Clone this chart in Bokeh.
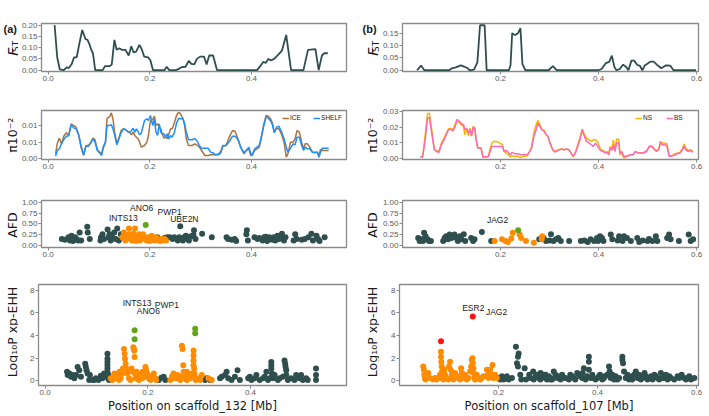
import math
from bokeh.plotting import figure
from bokeh.layouts import column, row
from bokeh.models import Label, Range1d, FixedTicker, PrintfTickFormatter
from bokeh.embed import file_html
from bokeh.resources import INLINE

# ---------------- data ----------------
# F_ST, scaffold_132 (a) : (position Mb, Fst)
fst_a = [(0.0128,0.200),(0.0179,0.057),(0.0230,0.003),(0.0307,0.0),(0.0371,0.013),(0.0409,0.009),
         (0.0466,0.028),(0.0511,0.057),(0.0562,0.057),(0.0613,0.116),(0.0671,0.178),(0.0735,0.138),
         (0.0773,0.135),(0.0812,0.116),(0.0850,0.090),(0.0882,0.075),(0.0927,0.0),(0.1074,0.0),
         (0.1118,0.018),(0.1214,0.018),(0.1252,0.025),(0.1304,0.134),(0.1348,0.090),(0.1393,0.097),
         (0.1457,0.090),(0.1521,0.090),(0.1585,0.065),(0.1636,0.106),(0.1681,0.079),(0.1732,0.082),
         (0.1796,0.112),(0.1840,0.094),(0.1891,0.060),(0.1968,0.057),(0.2013,0.043),(0.2064,0.0),
         (0.2288,0.0),(0.2332,0.015),(0.2383,0.0),(0.2511,0.0),(0.2575,0.006),(0.2626,0.013),
         (0.2703,0.015),(0.2767,0.041),(0.2818,0.028),(0.2876,0.026),(0.2927,0.050),(0.2991,0.060),
         (0.3067,0.060),(0.3118,0.025),(0.3169,0.065),(0.3246,0.065),(0.3323,0.0),(0.4109,0.0),
         (0.4173,0.018),(0.4237,0.037),(0.4281,0.032),(0.4332,0.050),(0.4384,0.043),(0.4447,0.050),
         (0.4524,0.068),(0.4601,0.087),(0.4684,0.156),(0.4780,0.0),(0.5023,0.0),(0.5112,0.090),
         (0.5259,0.093),(0.5323,0.0),(0.5387,0.065),(0.5432,0.075),(0.5502,0.075)]
# F_ST, scaffold_107 (b)
fst_b = [(0.0297,0.0),(0.0379,0.019),(0.0446,0.0),(0.0953,0.0),(0.1007,0.008),(0.1088,0.012),
         (0.1190,0.020),(0.1244,0.016),(0.1325,0.009),(0.1372,0.0),(0.1460,0.003),(0.1528,0.032),
         (0.1582,0.182),(0.1676,0.182),(0.1717,0.0),(0.2170,0.0),(0.2204,0.019),(0.2238,0.150),
         (0.2292,0.142),(0.2359,0.150),(0.2407,0.170),(0.2447,0.025),(0.2508,0.0),(0.2981,0.0),
         (0.3069,0.017),(0.3150,0.0),(0.3995,0.0),(0.4063,0.005),(0.4151,0.029),(0.4218,0.034),
         (0.4272,0.059),(0.4326,0.012),(0.4367,0.0),(0.4435,0.005),(0.4502,0.023),(0.4570,0.012),
         (0.4610,0.0),(0.4671,0.039),(0.4725,0.039),(0.4793,0.021),(0.4840,0.019),(0.4894,0.0),
         (0.4942,0.019),(0.4989,0.025),(0.5056,0.035),(0.5124,0.035),(0.5212,0.019),(0.5280,0.008),
         (0.5381,0.020),(0.5462,0.019),(0.5530,0.0),(0.5989,0.0)]

# nucleotide diversity (a): ICE / SHELF
pi_a_pos = [0.0147,0.0179,0.0218,0.0263,0.0308,0.0359,0.0404,0.0455,0.0500,0.0551,
            0.0603,0.0647,0.0699,0.0744,0.0795,0.0840,0.0885,0.0923,0.0968,0.1013,
            0.1051,0.1083,0.1128,0.1160,0.1205,0.1244,0.1276,0.1308,0.1353,0.1397,
            0.1436,0.1481,0.1526,0.1564,0.1609,0.1641,0.1673,0.1705,0.1737,0.1769,
            0.1801,0.1833,0.1897,0.1942,0.1974,0.2013,0.2058,0.2090,0.2122,0.2154,
            0.2186,0.2218,0.2250,0.2282,0.2314,0.2346,0.2378,0.2410,0.2442,0.2487,
            0.2526,0.2570,0.2603,0.2654,0.2686,0.2718,0.2763,0.2827,0.2891,0.2936,
            0.2974,0.3019,0.3083,0.3147,0.3199,0.3244,0.3295,0.3359,0.3404,0.3436,
            0.3500,0.3564,0.3628,0.3679,0.3724,0.3756,0.3788,0.3853,0.3897,0.3949,
            0.3987,0.4013,0.4064,0.4109,0.4154,0.4192,0.4237,0.4288,0.4333,0.4384,
            0.4417,0.4449,0.4494,0.4538,0.4590,0.4641,0.4686,0.4718,0.4769,0.4821,
            0.4859,0.4897,0.4942,0.4987,0.5026,0.5058,0.5103,0.5147,0.5199,0.5244,
            0.5295,0.5327,0.5359,0.5391,0.5455,0.5519]
pi_shelf = [0.0008,0.0025,0.0030,0.0045,0.0058,0.0068,0.0069,0.0103,0.0093,0.0090,
            0.0072,0.0040,0.0012,0.0038,0.0038,0.0047,0.0060,0.0050,0.0025,0.0018,
            0.0010,0.0035,0.0050,0.0100,0.0100,0.0102,0.0090,0.0072,0.0042,0.0062,
            0.0078,0.0090,0.0088,0.0082,0.0080,0.0085,0.0092,0.0080,0.0090,0.0082,
            0.0072,0.0077,0.0115,0.0120,0.0115,0.0130,0.0100,0.0120,0.0080,0.0070,
            0.0105,0.0080,0.0075,0.0075,0.0065,0.0075,0.0060,0.0070,0.0065,0.0080,
            0.0107,0.0122,0.0120,0.0120,0.0105,0.0080,0.0057,0.0057,0.0060,0.0052,
            0.0040,0.0032,0.0032,0.0032,0.0020,0.0018,0.0012,0.0012,0.0020,0.0040,
            0.0040,0.0052,0.0068,0.0068,0.0060,0.0050,0.0035,0.0018,0.0025,0.0035,
            0.0015,0.0012,0.0030,0.0035,0.0040,0.0065,0.0095,0.0125,0.0122,0.0112,
            0.0100,0.0078,0.0095,0.0098,0.0082,0.0060,0.0035,0.0020,0.0032,0.0045,
            0.0042,0.0065,0.0065,0.0040,0.0025,0.0035,0.0030,0.0030,0.0020,0.0020,
            0.0020,0.0005,0.0020,0.0032,0.0032,0.0032]
pi_ice = [0.0015,0.0045,0.0062,0.0045,0.0068,0.0078,0.0070,0.0105,0.0100,0.0095,
          0.0070,0.0035,0.0010,0.0040,0.0040,0.0050,0.0062,0.0057,0.0028,0.0020,
          0.0015,0.0030,0.0050,0.0122,0.0125,0.0138,0.0120,0.0080,0.0045,0.0065,
          0.0085,0.0090,0.0087,0.0082,0.0078,0.0072,0.0080,0.0070,0.0065,0.0060,
          0.0050,0.0035,0.0040,0.0050,0.0070,0.0115,0.0118,0.0128,0.0100,0.0105,
          0.0095,0.0090,0.0072,0.0062,0.0065,0.0060,0.0075,0.0090,0.0090,0.0110,
          0.0130,0.0140,0.0135,0.0120,0.0100,0.0060,0.0040,0.0040,0.0045,0.0040,
          0.0035,0.0025,0.0010,0.0010,0.0012,0.0012,0.0012,0.0015,0.0025,0.0038,
          0.0040,0.0065,0.0085,0.0082,0.0065,0.0050,0.0035,0.0015,0.0025,0.0030,
          0.0010,0.0010,0.0025,0.0030,0.0035,0.0060,0.0100,0.0130,0.0128,0.0118,
          0.0105,0.0080,0.0092,0.0090,0.0075,0.0050,0.0005,0.0015,0.0050,0.0050,
          0.0060,0.0085,0.0080,0.0050,0.0030,0.0045,0.0045,0.0035,0.0020,0.0018,
          0.0020,0.0010,0.0028,0.0025,0.0025,0.0025]

# nucleotide diversity (b): NS / BS
pi_b_pos = [0.0364,0.0410,0.0463,0.0510,0.0549,0.0596,0.0649,0.0695,0.0741,0.0794,
            0.0847,0.0894,0.0940,0.0980,0.1026,0.1072,0.1112,0.1159,0.1192,0.1245,
            0.1271,0.1311,0.1344,0.1377,0.1410,0.1443,0.1476,0.1503,0.1536,0.1602,
            0.1642,0.1721,0.1754,0.1787,0.1821,0.1867,0.1920,0.1986,0.2039,0.2072,
            0.2118,0.2152,0.2198,0.2238,0.2284,0.2350,0.2416,0.2483,0.2549,0.2595,
            0.2635,0.2681,0.2727,0.2767,0.2800,0.2847,0.2893,0.2926,0.2966,0.3012,
            0.3065,0.3111,0.3178,0.3244,0.3297,0.3343,0.3396,0.3442,0.3482,0.3528,
            0.3575,0.3621,0.3667,0.3707,0.3754,0.3807,0.3853,0.3893,0.3939,0.3985,
            0.4038,0.4091,0.4138,0.4171,0.4210,0.4237,0.4277,0.4303,0.4336,0.4369,
            0.4416,0.4435,0.4475,0.4515,0.4555,0.4601,0.4647,0.4700,0.4753,0.4800,
            0.4846,0.4899,0.4952,0.4998,0.5031,0.5064,0.5097,0.5144,0.5183,0.5230,
            0.5263,0.5296,0.5349,0.5395,0.5442,0.5481,0.5514,0.5561,0.5614,0.5660,
            0.5706,0.5746,0.5779,0.5826,0.5879,0.5925]
pi_bs = [0.0011,0.0011,0.0120,0.0258,0.0262,0.0163,0.0057,0.0046,0.0040,0.0089,
         0.0120,0.0152,0.0184,0.0188,0.0177,0.0201,0.0247,0.0237,0.0226,0.0216,
         0.0184,0.0194,0.0163,0.0184,0.0146,0.0201,0.0194,0.0120,0.0068,0.0068,
         0.0011,0.0011,0.0015,0.0046,0.0078,0.0078,0.0078,0.0078,0.0078,0.0046,
         0.0053,0.0042,0.0025,0.0040,0.0032,0.0032,0.0025,0.0025,0.0025,0.0046,
         0.0068,0.0142,0.0184,0.0226,0.0205,0.0184,0.0173,0.0156,0.0142,0.0099,
         0.0057,0.0042,0.0053,0.0061,0.0057,0.0061,0.0057,0.0036,0.0015,0.0036,
         0.0078,0.0120,0.0184,0.0146,0.0110,0.0099,0.0089,0.0078,0.0099,0.0078,
         0.0053,0.0046,0.0036,0.0040,0.0025,0.0068,0.0053,0.0089,0.0046,0.0099,
         0.0099,0.0036,0.0046,0.0015,0.0015,0.0019,0.0025,0.0025,0.0046,0.0036,
         0.0036,0.0036,0.0040,0.0053,0.0078,0.0078,0.0074,0.0057,0.0046,0.0057,
         0.0110,0.0089,0.0089,0.0082,0.0015,0.0015,0.0019,0.0025,0.0032,0.0036,
         0.0053,0.0078,0.0057,0.0046,0.0053,0.0040]
pi_ns = [0.0011,0.0011,0.0152,0.0285,0.0289,0.0184,0.0061,0.0051,0.0046,0.0099,
         0.0131,0.0163,0.0190,0.0192,0.0184,0.0216,0.0251,0.0230,0.0216,0.0205,
         0.0152,0.0188,0.0146,0.0194,0.0142,0.0205,0.0190,0.0120,0.0068,0.0068,
         0.0011,0.0011,0.0019,0.0061,0.0099,0.0110,0.0110,0.0099,0.0089,0.0046,
         0.0036,0.0025,0.0011,0.0019,0.0015,0.0015,0.0008,0.0015,0.0019,0.0046,
         0.0078,0.0163,0.0216,0.0243,0.0216,0.0184,0.0180,0.0152,0.0142,0.0099,
         0.0057,0.0046,0.0057,0.0061,0.0057,0.0061,0.0057,0.0032,0.0011,0.0040,
         0.0089,0.0131,0.0188,0.0158,0.0131,0.0120,0.0110,0.0120,0.0120,0.0104,
         0.0061,0.0053,0.0040,0.0046,0.0032,0.0078,0.0057,0.0120,0.0057,0.0125,
         0.0120,0.0025,0.0040,0.0004,0.0011,0.0019,0.0025,0.0025,0.0046,0.0040,
         0.0036,0.0036,0.0046,0.0057,0.0078,0.0082,0.0078,0.0061,0.0051,0.0061,
         0.0099,0.0099,0.0099,0.0095,0.0019,0.0019,0.0023,0.0032,0.0036,0.0040,
         0.0061,0.0093,0.0068,0.0053,0.0057,0.0046]

# allele frequency difference (a)
afd_a_bg = [(0.027,0.15),(0.033,0.13),(0.040,0.19),(0.043,0.11),(0.046,0.22),(0.049,0.10),(0.053,0.19),
            (0.056,0.15),(0.059,0.11),(0.062,0.30),(0.065,0.11),(0.077,0.43),(0.078,0.30),(0.082,0.15),
            (0.103,0.11),(0.104,0.19),(0.107,0.26),(0.110,0.15),(0.117,0.37),(0.119,0.19),(0.121,0.26),
            (0.123,0.11),(0.126,0.19),(0.130,0.30),(0.133,0.15),(0.136,0.39),(0.139,0.11),(0.143,0.26),
            (0.205,0.13),(0.215,0.19),(0.229,0.17),(0.234,0.19),(0.239,0.19),(0.245,0.15),(0.248,0.19),
            (0.255,0.11),(0.258,0.19),(0.260,0.44),(0.265,0.11),(0.268,0.19),(0.271,0.22),(0.274,0.15),
            (0.277,0.11),(0.281,0.21),(0.286,0.24),(0.287,0.35),(0.290,0.15),(0.303,0.27),(0.322,0.19),
            (0.351,0.19),(0.354,0.15),(0.361,0.13),(0.367,0.15),(0.370,0.10),(0.390,0.26),(0.391,0.35),
            (0.393,0.11),(0.406,0.19),(0.412,0.15),(0.415,0.17),(0.422,0.11),(0.425,0.19),(0.428,0.20),
            (0.431,0.10),(0.435,0.19),(0.438,0.15),(0.441,0.13),(0.444,0.19),(0.447,0.11),(0.451,0.22),
            (0.454,0.15),(0.457,0.19),(0.460,0.27),(0.464,0.11),(0.467,0.19),(0.483,0.11),(0.486,0.26),
            (0.489,0.15),(0.499,0.13),(0.505,0.15),(0.512,0.19),(0.518,0.27),(0.521,0.11),(0.528,0.22),
            (0.531,0.15),(0.534,0.10),(0.544,0.19)]
afd_a_sel = [(0.146,0.19),(0.149,0.30),(0.152,0.22),(0.152,0.11),(0.155,0.19),(0.159,0.26),(0.159,0.39),
             (0.162,0.15),(0.165,0.11),(0.166,0.19),(0.168,0.27),(0.171,0.39),(0.173,0.10),(0.175,0.22),
             (0.178,0.15),(0.179,0.26),(0.181,0.11),(0.184,0.19),(0.187,0.26),(0.191,0.15),(0.194,0.11),
             (0.197,0.19),(0.200,0.10),(0.204,0.22),(0.207,0.15),(0.210,0.11),(0.213,0.19),(0.216,0.13),
             (0.220,0.10),(0.223,0.15),(0.226,0.11),(0.229,0.15),(0.232,0.11)]
afd_a_top = [(0.192,0.47)]
afd_a_genes = [("ANO6",0.184,0.87),("PWP1",0.239,0.78),("INTS13",0.148,0.64),("UBE2N",0.268,0.61)]

# allele frequency difference (b)
afd_b_bg = [(0.032,0.17),(0.035,0.10),(0.039,0.14),(0.042,0.10),(0.044,0.29),(0.047,0.21),(0.051,0.14),
            (0.054,0.10),(0.058,0.10),(0.083,0.10),(0.086,0.17),(0.089,0.21),(0.093,0.14),(0.096,0.25),
            (0.100,0.17),(0.103,0.21),(0.106,0.25),(0.110,0.17),(0.113,0.10),(0.117,0.21),(0.120,0.14),
            (0.125,0.26),(0.128,0.10),(0.140,0.17),(0.144,0.10),(0.147,0.14),(0.162,0.31),(0.181,0.10),
            (0.279,0.14),(0.288,0.17),(0.293,0.10),(0.300,0.11),(0.303,0.26),(0.308,0.10),(0.313,0.14),
            (0.318,0.17),(0.323,0.10),(0.340,0.10),(0.364,0.10),(0.371,0.11),(0.378,0.08),(0.384,0.14),
            (0.391,0.10),(0.397,0.17),(0.399,0.10),(0.403,0.21),(0.407,0.17),(0.410,0.10),(0.425,0.25),
            (0.428,0.14),(0.439,0.11),(0.442,0.21),(0.449,0.10),(0.452,0.21),(0.458,0.17),(0.466,0.10),
            (0.479,0.17),(0.483,0.08),(0.490,0.11),(0.500,0.10),(0.503,0.15),(0.510,0.10),(0.517,0.21),
            (0.520,0.10),(0.540,0.17),(0.544,0.25),(0.547,0.14),(0.564,0.10),(0.584,0.25),(0.588,0.10),
            (0.593,0.14)]
afd_b_sel = [(0.188,0.10),(0.203,0.14),(0.210,0.10),(0.215,0.08),(0.222,0.16),(0.225,0.29),(0.239,0.25),
             (0.242,0.17),(0.252,0.10),(0.268,0.06),(0.284,0.14),(0.285,0.21)]
afd_b_top = [(0.236,0.35)]
afd_b_genes = [("JAG2",0.194,0.59)]

# -log10 P xp-EHH (a)
xp_a_bg = [(0.0426,0.78),(0.0439,0.49),(0.0471,0.64),(0.0503,0.35),(0.0535,0.49),(0.0568,0.20),(0.0600,0.49),
           (0.0632,1.21),(0.0664,0.92),(0.0697,0.35),(0.0780,1.50),(0.0793,1.21),(0.0806,0.92),(0.0826,0.64),
           (0.0858,0.06),(0.0871,0.49),(0.0922,0.06),(0.0955,0.06),(0.0987,0.20),(0.1038,0.06),(0.1084,0.43),
           (0.1116,0.20),(0.1148,0.64),(0.1180,0.35),(0.1213,2.37),(0.1213,1.93),(0.1213,1.65),(0.1213,1.36),
           (0.1213,1.07),(0.1213,0.78),(0.1232,0.49),(0.1232,0.20),(0.1245,0.06),(0.2212,0.06),(0.2264,0.26),
           (0.2309,0.35),(0.2341,0.06),(0.3115,0.06),(0.3148,0.20),(0.3212,0.06),(0.3406,0.20),(0.3438,0.35),
           (0.3502,0.49),(0.3535,0.78),(0.3567,0.20),(0.3631,0.06),(0.3696,0.35),(0.3747,0.92),(0.3793,0.06),
           (0.3954,0.20),(0.3986,0.35),(0.4018,0.06),(0.4083,0.20),(0.4115,0.49),(0.4180,0.06),(0.4244,0.20),
           (0.4276,0.35),(0.4309,0.78),(0.4341,0.06),(0.4373,0.20),(0.4405,1.65),(0.4405,1.36),(0.4405,1.07),
           (0.4418,0.64),(0.4438,0.20),(0.4470,0.49),(0.4534,0.06),(0.4567,0.20),(0.4631,0.35),(0.4663,1.79),
           (0.4676,1.50),(0.4683,1.21),(0.4696,0.92),(0.4696,0.49),(0.4728,0.06),(0.4792,0.20),(0.4857,0.06),
           (0.4889,0.49),(0.4954,0.20),(0.4986,0.49),(0.5018,0.06),(0.5083,0.20),(0.5115,0.06),(0.5276,1.07),
           (0.5276,0.49),(0.5276,0.06)]
xp_a_sel = [(0.1277,0.20),(0.1309,0.06),(0.1342,0.35),(0.1350,0.64),(0.1374,0.20),(0.1406,0.49),(0.1438,0.06),
            (0.1450,0.78),(0.1471,0.20),(0.1503,0.64),(0.1516,1.07),(0.1535,2.80),(0.1548,2.37),(0.1554,1.93),
            (0.1567,1.50),(0.1580,1.07),(0.1600,0.64),(0.1620,0.78),(0.1632,0.20),(0.1664,0.06),(0.1683,1.07),
            (0.1709,0.78),(0.1716,2.95),(0.1729,2.80),(0.1735,2.66),(0.1742,2.08),(0.1748,0.64),(0.1761,0.20),
            (0.1780,0.78),(0.1793,0.35),(0.1825,0.06),(0.1840,0.49),(0.1858,0.64),(0.1890,0.20),(0.1900,0.78),
            (0.1922,0.49),(0.1954,1.21),(0.1960,0.35),(0.1967,0.92),(0.1987,0.64),(0.2000,0.49),(0.2019,0.20),
            (0.2051,0.06),(0.2083,0.35),(0.2100,0.20),(0.2116,0.64),(0.2148,0.20),(0.2161,0.06),(0.2438,0.06),
            (0.2470,0.35),(0.2500,0.64),(0.2503,0.20),(0.2535,0.49),(0.2567,0.20),(0.2580,0.49),(0.2599,0.35),
            (0.2632,0.06),(0.2650,0.35),(0.2664,3.09),(0.2677,2.80),(0.2690,1.36),(0.2696,0.78),(0.2703,0.20),
            (0.2728,0.35),(0.2760,0.78),(0.2761,0.06),(0.2793,0.49),(0.2820,0.49),(0.2825,0.20),(0.2857,0.64),
            (0.2890,2.66),(0.2890,2.22),(0.2890,1.79),(0.2890,1.36),(0.2903,1.07),(0.2909,0.64),(0.2922,0.20),
            (0.2935,0.06),(0.2986,0.20),(0.3019,0.06),(0.3051,0.49),(0.3180,0.20),(0.3244,0.06)]
xp_a_top = [(0.1742,4.45),(0.1742,3.67),(0.2922,4.59),(0.2922,4.19)]
xp_a_genes = [("INTS13",0.179,6.85),("PWP1",0.237,6.70),("ANO6",0.201,6.12)]

# -log10 P xp-EHH (b)
xp_b_bg = [(0.2001,0.23),(0.2035,0.09),(0.2069,0.38),(0.2102,0.09),(0.2136,0.23),(0.2170,0.38),(0.2204,0.09),
           (0.2271,0.23),(0.2352,2.99),(0.2373,1.54),(0.2393,2.12),(0.2407,2.41),(0.2393,1.25),(0.2440,0.52),
           (0.2461,0.09),(0.2528,1.10),(0.2555,0.09),(0.2620,0.52),(0.2643,0.23),(0.2700,0.81),(0.2711,0.09),
           (0.2750,0.38),(0.2778,0.52),(0.2812,0.23),(0.2846,0.09),(0.2850,0.67),(0.2880,0.38),(0.2914,0.52),
           (0.2947,0.23),(0.2950,0.52),(0.2981,0.09),(0.3015,0.38),(0.3049,0.23),(0.3050,0.09),(0.3083,0.09),
           (0.3116,0.81),(0.3150,0.52),(0.3184,0.23),(0.3200,0.38),(0.3252,0.09),(0.3285,0.52),(0.3300,0.23),
           (0.3353,0.23),(0.3421,0.09),(0.3450,0.52),(0.3488,0.38),(0.3522,0.23),(0.3550,0.09),(0.3590,0.67),
           (0.3623,0.52),(0.3650,0.38),(0.3691,0.23),(0.3700,0.67),(0.3725,1.10),(0.3759,0.09),(0.3792,0.38),
           (0.3826,2.12),(0.3826,1.68),(0.3826,0.96),(0.3860,0.23),(0.3894,0.52),(0.3900,0.23),(0.3961,0.09),
           (0.3995,0.23),(0.4029,0.38),(0.4050,0.52),(0.4097,0.09),(0.4130,0.23),(0.4150,0.38),(0.4198,0.52),
           (0.4232,1.25),(0.4245,0.81),(0.4266,0.23),(0.4300,0.52),(0.4333,0.09),(0.4367,0.38),(0.4400,0.09),
           (0.4435,0.23),(0.4502,2.12),(0.4502,1.83),(0.4516,1.54),(0.4536,0.81),(0.4570,0.23),(0.4604,0.52),
           (0.4637,0.09),(0.4650,0.38),(0.4700,0.09),(0.4739,0.52),(0.4773,0.81),(0.4806,0.23),(0.4840,0.52),
           (0.4874,0.09),(0.4908,0.23),(0.4950,0.67),(0.4975,0.38),(0.5009,0.09),(0.5043,0.23),(0.5080,0.38),
           (0.5111,0.09),(0.5150,0.52),(0.5178,0.38),(0.5212,0.23),(0.5246,0.09),(0.5280,0.67),(0.5313,0.23),
           (0.5350,0.23),(0.5381,0.52),(0.5415,0.09),(0.5450,0.38),(0.5482,0.23),(0.5550,0.09),(0.5618,0.38),
           (0.5651,0.23),(0.5700,0.52),(0.5753,0.23),(0.5787,0.09),(0.5820,0.23),(0.5854,0.38),(0.5888,0.09),
           (0.5956,0.23)]
xp_b_sel = [(0.0480,1.25),(0.0493,0.96),(0.0500,0.52),(0.0514,0.23),(0.0527,0.09),(0.0548,0.38),(0.0581,0.67),
            (0.0615,0.23),(0.0683,0.09),(0.0717,0.23),(0.0750,0.09),(0.0784,0.23),(0.0818,0.52),(0.0838,2.55),
            (0.0838,2.12),(0.0845,1.68),(0.0852,1.25),(0.0859,0.81),(0.0865,0.52),(0.0872,0.23),(0.0886,0.09),
            (0.0906,0.96),(0.0919,0.52),(0.0953,0.23),(0.0987,0.09),(0.1000,1.25),(0.1021,1.68),(0.1034,0.96),
            (0.1055,0.52),(0.1068,0.23),(0.1088,0.09),(0.1122,0.67),(0.1156,0.38),(0.1190,0.23),(0.1224,0.09),
            (0.1244,1.10),(0.1257,0.67),(0.1291,0.23),(0.1325,0.52),(0.1359,0.09),(0.1393,0.23),(0.1426,0.81),
            (0.1447,1.25),(0.1460,1.83),(0.1474,1.97),(0.1480,1.54),(0.1494,1.10),(0.1494,0.67),(0.1514,0.23),
            (0.1528,0.09),(0.1562,0.52),(0.1595,0.23),(0.1629,0.09),(0.1663,0.23),(0.1697,0.38),(0.1764,0.96),
            (0.1785,0.52),(0.1798,0.23),(0.1832,0.96),(0.1866,0.52),(0.1879,1.39),(0.1900,0.23),(0.1933,0.52),
            (0.1967,0.23)]
xp_b_top = [(0.0838,3.48),(0.1480,5.68)]
xp_b_genes = [("ESR2",0.149,6.38),("JAG2",0.196,6.03)]

x_ticks_a = [0.0, 0.2, 0.4]
x_ticks_b = [0.2, 0.4, 0.6]
fst_ticks_a = [0.0, 0.05, 0.10, 0.15, 0.20]
fst_ticks_b = [0.0, 0.05, 0.10, 0.15]
pi_ticks_a = [0.0, 0.005, 0.010]
pi_ticks_b = [0.0, 0.01, 0.02, 0.03]
afd_ticks = [0.0, 0.25, 0.5, 0.75, 1.0]
xp_ticks = [0, 2, 4, 6, 8]

# ---------------- style ----------------
DARK = "#2F4F4F"; ORANGE = "#FF8C00"; GREEN = "#62A51C"; RED = "#FF1414"
ICE_C = "#A9743E"; SHELF_C = "#1E8FFF"; NS_C = "#F9B500"; BS_C = "#FF69B4"
FRAME = "#8A8A8A"; TICKC = "#5A5A5A"; TXT = "#1A1A1A"
TICKFONT = "Liberation Sans"; TITLEFONT = "DejaVu Sans"; GENEFONT = "Liberation Sans"

XR_A = (-0.013, 0.587)
XR_B = (0.0, 0.604)
# column geometry (px): title strip + panel
TW_A, LW, LBL, LBR = 18, 337, 20, 9
TW_B, RW, RBL, RBR = 24, 329, 20, 10
TX_A, TX_B = 12, 17          # baseline of rotated titles inside title strips


def unz(pairs):
    return [a for a, _ in pairs], [b for _, b in pairs]


def make_fig(side, h, bt, bb, yr, yticks, yfmt):
    if side == "a":
        w, bl, br, xr, xt = LW, LBL, LBR, XR_A, x_ticks_a
    else:
        w, bl, br, xr, xt = RW, RBL, RBR, XR_B, x_ticks_b
    p = figure(width=w, height=h, output_backend="svg", toolbar_location=None, title=None,
               x_range=Range1d(*xr), y_range=Range1d(*yr),
               min_border_left=bl, min_border_right=br, min_border_top=bt, min_border_bottom=bb)
    p.grid.visible = False
    p.outline_line_color = FRAME
    p.outline_line_width = 1.3
    p.background_fill_color = "white"
    p.border_fill_color = "white"
    for ax in (p.xaxis[0], p.yaxis[0]):
        ax.axis_line_color = None
        ax.major_tick_line_color = FRAME
        ax.major_tick_in = 0
        ax.major_tick_out = 3
        ax.minor_tick_line_color = None
        ax.major_label_text_font = TICKFONT
        ax.major_label_text_font_size = "8px"
        ax.major_label_text_color = TICKC
        ax.major_label_standoff = 1
    p.xaxis[0].ticker = FixedTicker(ticks=xt)
    p.xaxis[0].formatter = PrintfTickFormatter(format="%.1f")
    p.yaxis[0].ticker = FixedTicker(ticks=yticks)
    p.yaxis[0].formatter = PrintfTickFormatter(format=yfmt)
    return p


def title_strip(w, h):
    t = figure(width=w, height=h, output_backend="svg", toolbar_location=None, title=None,
               x_range=Range1d(0, w), y_range=Range1d(0, h), min_border=0,
               x_axis_type=None, y_axis_type=None)
    t.grid.visible = False
    t.outline_line_color = None
    t.background_fill_color = "white"
    t.border_fill_color = "white"
    return t


def vtext(p, x, yc, text, size, style="normal"):
    # rotated text, centred on yc (pixels from the bottom of the strip)
    p.add_layout(Label(x=x, y=yc, text=text, angle=math.pi / 2, text_font=TITLEFONT,
                       text_font_size=f"{size}px", text_font_style=style, text_align="center",
                       text_baseline="alphabetic", text_color=TXT))


def panel_tag(p, x, y, text):
    p.add_layout(Label(x=x, y=y, text=text, text_font="Liberation Sans", text_font_size="11px",
                       text_font_style="bold", text_align="left", text_baseline="middle",
                       text_color=TXT))


def genes(p, items):
    for t, gx, gy in items:
        p.add_layout(Label(x=gx, y=gy, text=t, text_font=GENEFONT, text_font_size="8.5px",
                           text_align="center", text_baseline="middle", text_color=TXT))


def style_legend(p):
    lg = p.legend[0]
    lg.location = "top_right"
    lg.orientation = "horizontal"
    lg.label_text_font = TICKFONT
    lg.label_text_font_size = "6.5px"
    lg.label_text_color = TXT
    lg.glyph_width = 7
    lg.glyph_height = 6
    lg.label_height = 6
    lg.label_standoff = 1
    lg.spacing = 3
    lg.padding = 1
    lg.margin = 3
    lg.border_line_alpha = 0
    lg.background_fill_alpha = 0


def ytitle_fst(t, x, yc):
    start = yc - 9.9
    vtext(t, x, start + 4.0, "F", 14, "italic")
    vtext(t, x + 3, start + 14.1, "ST", 9)


def ytitle_xp(t, x, yc):
    vtext(t, x, yc, "Log₁₀P xp-EHH", 12.5)


def xtitle(p, text):
    ax = p.xaxis[0]
    ax.axis_label = text
    ax.axis_label_text_font = TITLEFONT
    ax.axis_label_text_font_size = "11.5px"
    ax.axis_label_text_font_style = "normal"
    ax.axis_label_text_color = TXT
    ax.axis_label_standoff = 1

# ---------------- row 1: Fst ----------------
R1H, R1T, R1B = 90, 23, 19
C1 = R1B + (R1H - R1T - R1B) / 2
p1a = make_fig("a", R1H, R1T, R1B, (-0.006, 0.207), fst_ticks_a, "%.2f")
x, y = unz(fst_a)
p1a.line(x, y, color=DARK, line_width=1.8)
t1a = title_strip(TW_A, R1H)
ytitle_fst(t1a, TX_A, C1)
panel_tag(t1a, 3, R1H - 10, "(a)")

p1b = make_fig("b", R1H, R1T, R1B, (-0.005, 0.189), fst_ticks_b, "%.2f")
x, y = unz(fst_b)
p1b.line(x, y, color=DARK, line_width=1.8)
t1b = title_strip(TW_B, R1H)
ytitle_fst(t1b, TX_B, C1)
panel_tag(t1b, 7, R1H - 10, "(b)")

# ---------------- row 2: pi ----------------
R2H, R2T, R2B = 88, 20, 19
C2 = R2B + (R2H - R2T - R2B) / 2
p2a = make_fig("a", R2H, R2T, R2B, (-0.0002, 0.0145), pi_ticks_a, "%.2f")
p2a.line(pi_a_pos, pi_ice, color=ICE_C, line_width=1.5, legend_label="ICE")
p2a.line(pi_a_pos, pi_shelf, color=SHELF_C, line_width=1.5, legend_label="SHELF")
style_legend(p2a)
t2a = title_strip(TW_A, R2H)
vtext(t2a, TX_A, C2, "π10⁻²", 12.5)

p2b = make_fig("b", R2H, R2T, R2B, (-0.0005, 0.0306), pi_ticks_b, "%.2f")
p2b.line(pi_b_pos, pi_ns, color=NS_C, line_width=1.5, legend_label="NS")
p2b.line(pi_b_pos, pi_bs, color=BS_C, line_width=1.5, legend_label="BS")
style_legend(p2b)
t2b = title_strip(TW_B, R2H)
vtext(t2b, TX_B, C2, "π10⁻²", 12.5)

# ---------------- row 3: AFD ----------------
R3H, R3T, R3B = 87, 22, 18
C3 = R3B + (R3H - R3T - R3B) / 2
p3a = make_fig("a", R3H, R3T, R3B, (-0.05, 1.04), afd_ticks, "%.2f")
for pts, c in ((afd_a_bg, DARK), (afd_a_sel, ORANGE), (afd_a_top, GREEN)):
    x, y = unz(pts)
    p3a.scatter(x, y, size=6, color=c, line_color=None)
genes(p3a, afd_a_genes)
t3a = title_strip(TW_A, R3H)
vtext(t3a, TX_A, C3, "AFD", 12.5)

p3b = make_fig("b", R3H, R3T, R3B, (-0.05, 1.04), afd_ticks, "%.2f")
for pts, c in ((afd_b_bg, DARK), (afd_b_sel, ORANGE), (afd_b_top, GREEN)):
    x, y = unz(pts)
    p3b.scatter(x, y, size=6, color=c, line_color=None)
genes(p3b, afd_b_genes)
t3b = title_strip(TW_B, R3H)
vtext(t3b, TX_B, C3, "AFD", 12.5)

# ---------------- row 4: xp-EHH ----------------
R4H, R4T, R4B = 150, 19, 28
C4 = R4B + (R4H - R4T - R4B) / 2
p4a = make_fig("a", R4H, R4T, R4B, (-0.43, 8.5), xp_ticks, "%d")
for pts, c in ((xp_a_bg, DARK), (xp_a_sel, ORANGE), (xp_a_top, GREEN)):
    x, y = unz(pts)
    p4a.scatter(x, y, size=6, color=c, line_color=None)
genes(p4a, xp_a_genes)
xtitle(p4a, "Position on scaffold_132 [Mb]")
t4a = title_strip(TW_A, R4H)
ytitle_xp(t4a, TX_A, C4)

p4b = make_fig("b", R4H, R4T, R4B, (-0.43, 8.5), xp_ticks, "%d")
for pts, c in ((xp_b_bg, DARK), (xp_b_sel, ORANGE), (xp_b_top, RED)):
    x, y = unz(pts)
    p4b.scatter(x, y, size=6, color=c, line_color=None)
genes(p4b, xp_b_genes)
xtitle(p4b, "Position on scaffold_107 [Mb]")
t4b = title_strip(TW_B, R4H)
ytitle_xp(t4b, TX_B, C4)

layout = column(row(t1a, p1a, t1b, p1b),
                row(t2a, p2a, t2b, p2b),
                row(t3a, p3a, t3b, p3b),
                row(t4a, p4a, t4b, p4b))
open("out.html", "w").write(file_html(layout, INLINE))
